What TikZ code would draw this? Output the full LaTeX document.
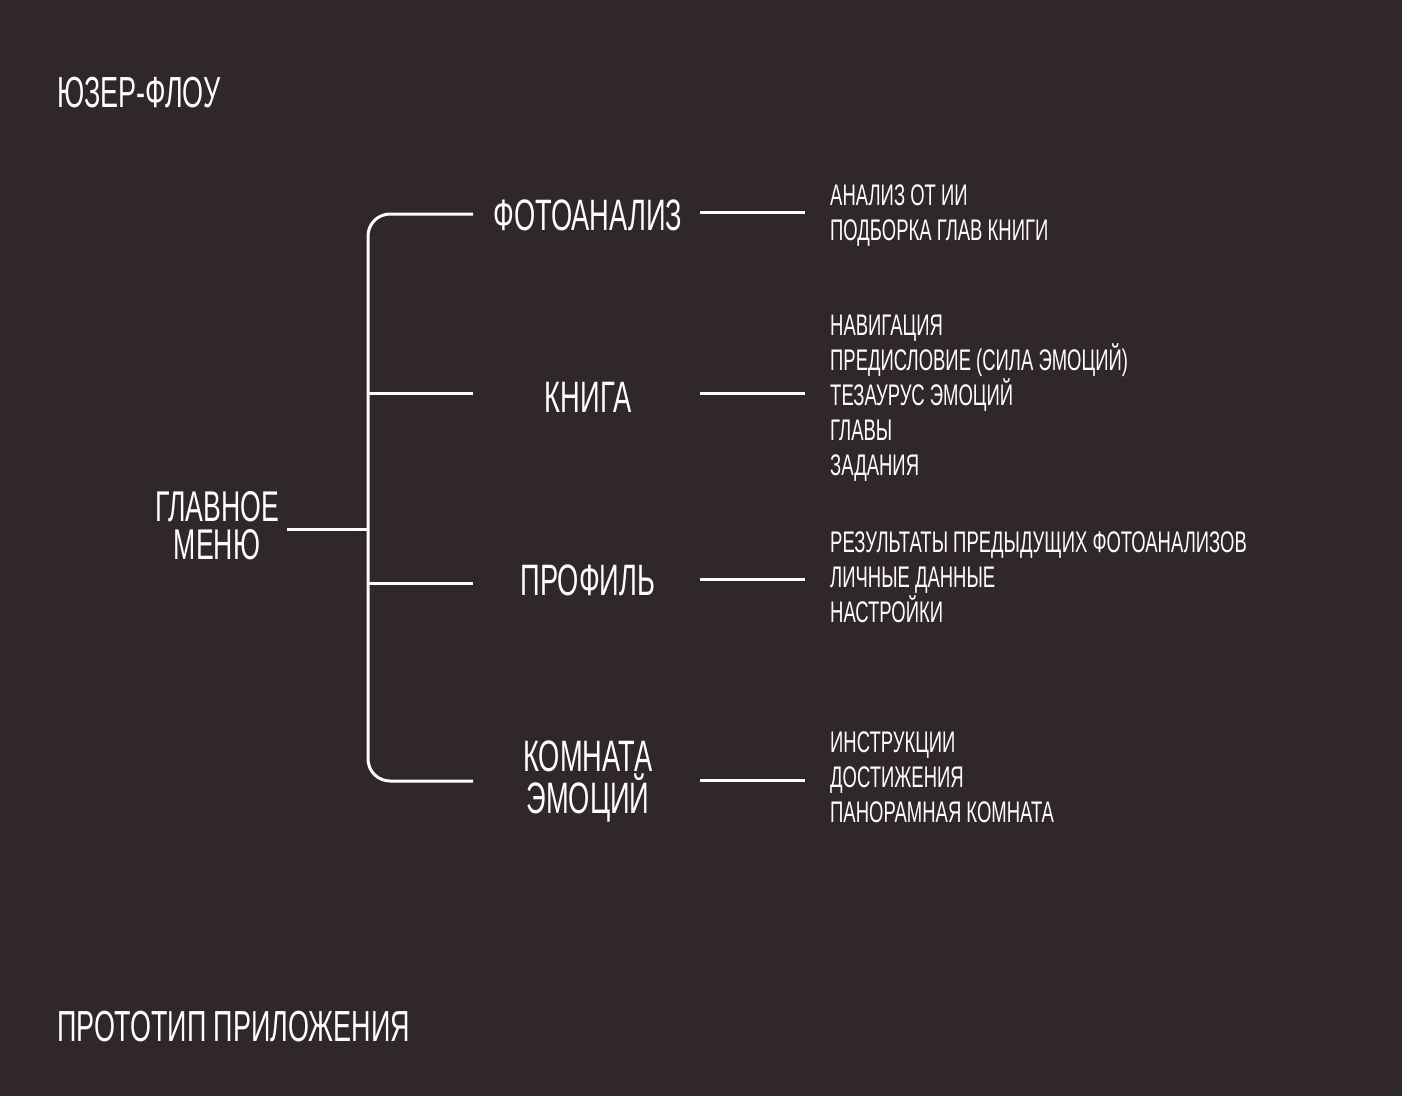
\documentclass[tikz,border=0pt]{standalone}
\usepackage{fontspec}
\setmainfont[FakeStretch=0.62]{Liberation Sans}
\definecolor{bg}{HTML}{2F2728}
\definecolor{fg}{HTML}{FFFFFF}
\begin{document}
\begin{tikzpicture}[x=1pt,y=-1pt,
  big/.style={text=fg,inner sep=0pt,font=\fontsize{44}{44}\selectfont,anchor=base},
  twoline/.style={text=fg,inner sep=0pt,align=center,anchor=center},
  title/.style={text=fg,inner sep=0pt,font=\fontsize{43.5}{43.5}\selectfont,anchor=base west},
  item/.style={text=fg,inner sep=0pt,font=\fontsize{29.8}{29.8}\selectfont,anchor=base west},
  conn/.style={draw=fg,line width=3pt}]
\fill[bg] (0,0) rectangle (1402,1096);
\useasboundingbox (0,0) rectangle (1402,1096);

\node[title] (t1) at (57,107) {ЮЗЕР-ФЛОУ};
\node[title] (t2) at (57,1041) {ПРОТОТИП ПРИЛОЖЕНИЯ};

\node[twoline,font=\fontsize{43}{38}\selectfont] (main) at (217,525.5) {ГЛАВНОЕ\\МЕНЮ};

\node[big] (foto) at (588,230) {ФОТОАНАЛИЗ};
\node[big] (kniga) at (588,412) {КНИГА};
\node[big] (prof) at (588,595) {ПРОФИЛЬ};
\node[twoline,font=\fontsize{44}{42}\selectfont] (komn) at (588,782) {КОМНАТА\\ЭМОЦИЙ};

\node[item] (a1) at (830,205) {АНАЛИЗ ОТ ИИ};
\node[item] (a2) at (830,240) {ПОДБОРКА ГЛАВ КНИГИ};

\node[item] (b1) at (830,335) {НАВИГАЦИЯ};
\node[item] (b2) at (830,370) {ПРЕДИСЛОВИЕ (СИЛА ЭМОЦИЙ)};
\node[item] (b3) at (830,405) {ТЕЗАУРУС ЭМОЦИЙ};
\node[item] (b4) at (830,440) {ГЛАВЫ};
\node[item] (b5) at (830,475) {ЗАДАНИЯ};

\node[item] (c1) at (830,552) {РЕЗУЛЬТАТЫ ПРЕДЫДУЩИХ ФОТОАНАЛИЗОВ};
\node[item] (c2) at (830,587) {ЛИЧНЫЕ ДАННЫЕ};
\node[item] (c3) at (830,622) {НАСТРОЙКИ};

\node[item] (d1) at (830,752) {ИНСТРУКЦИИ};
\node[item] (d2) at (830,787) {ДОСТИЖЕНИЯ};
\node[item] (d3) at (830,822) {ПАНОРАМНАЯ КОМНАТА};

% coordinates of connector ends
\coordinate (mainR) at (287,529);
\coordinate (trTop) at (368,214);
\coordinate (trBot) at (368,781);
\coordinate (tr2) at (368,393);
\coordinate (tr3) at (368,583);
\coordinate (trM) at (368,529);
\coordinate (l1) at (473,214);
\coordinate (l2) at (473,393);
\coordinate (l3) at (473,583);
\coordinate (l4) at (473,781);
\coordinate (r1a) at (700,212);
\coordinate (r1b) at (805,212);
\coordinate (r2a) at (700,393);
\coordinate (r2b) at (805,393);
\coordinate (r3a) at (700,579);
\coordinate (r3b) at (805,579);
\coordinate (r4a) at (700,780);
\coordinate (r4b) at (805,780);

\draw[conn,rounded corners=22pt] (l1) -- (trTop) -- (trBot) -- (l4);
\draw[conn] (tr2) -- (l2);
\draw[conn] (tr3) -- (l3);
\draw[conn] (mainR) -- (trM);
\draw[conn] (r1a) -- (r1b);
\draw[conn] (r2a) -- (r2b);
\draw[conn] (r3a) -- (r3b);
\draw[conn] (r4a) -- (r4b);
\end{tikzpicture}
\end{document}
